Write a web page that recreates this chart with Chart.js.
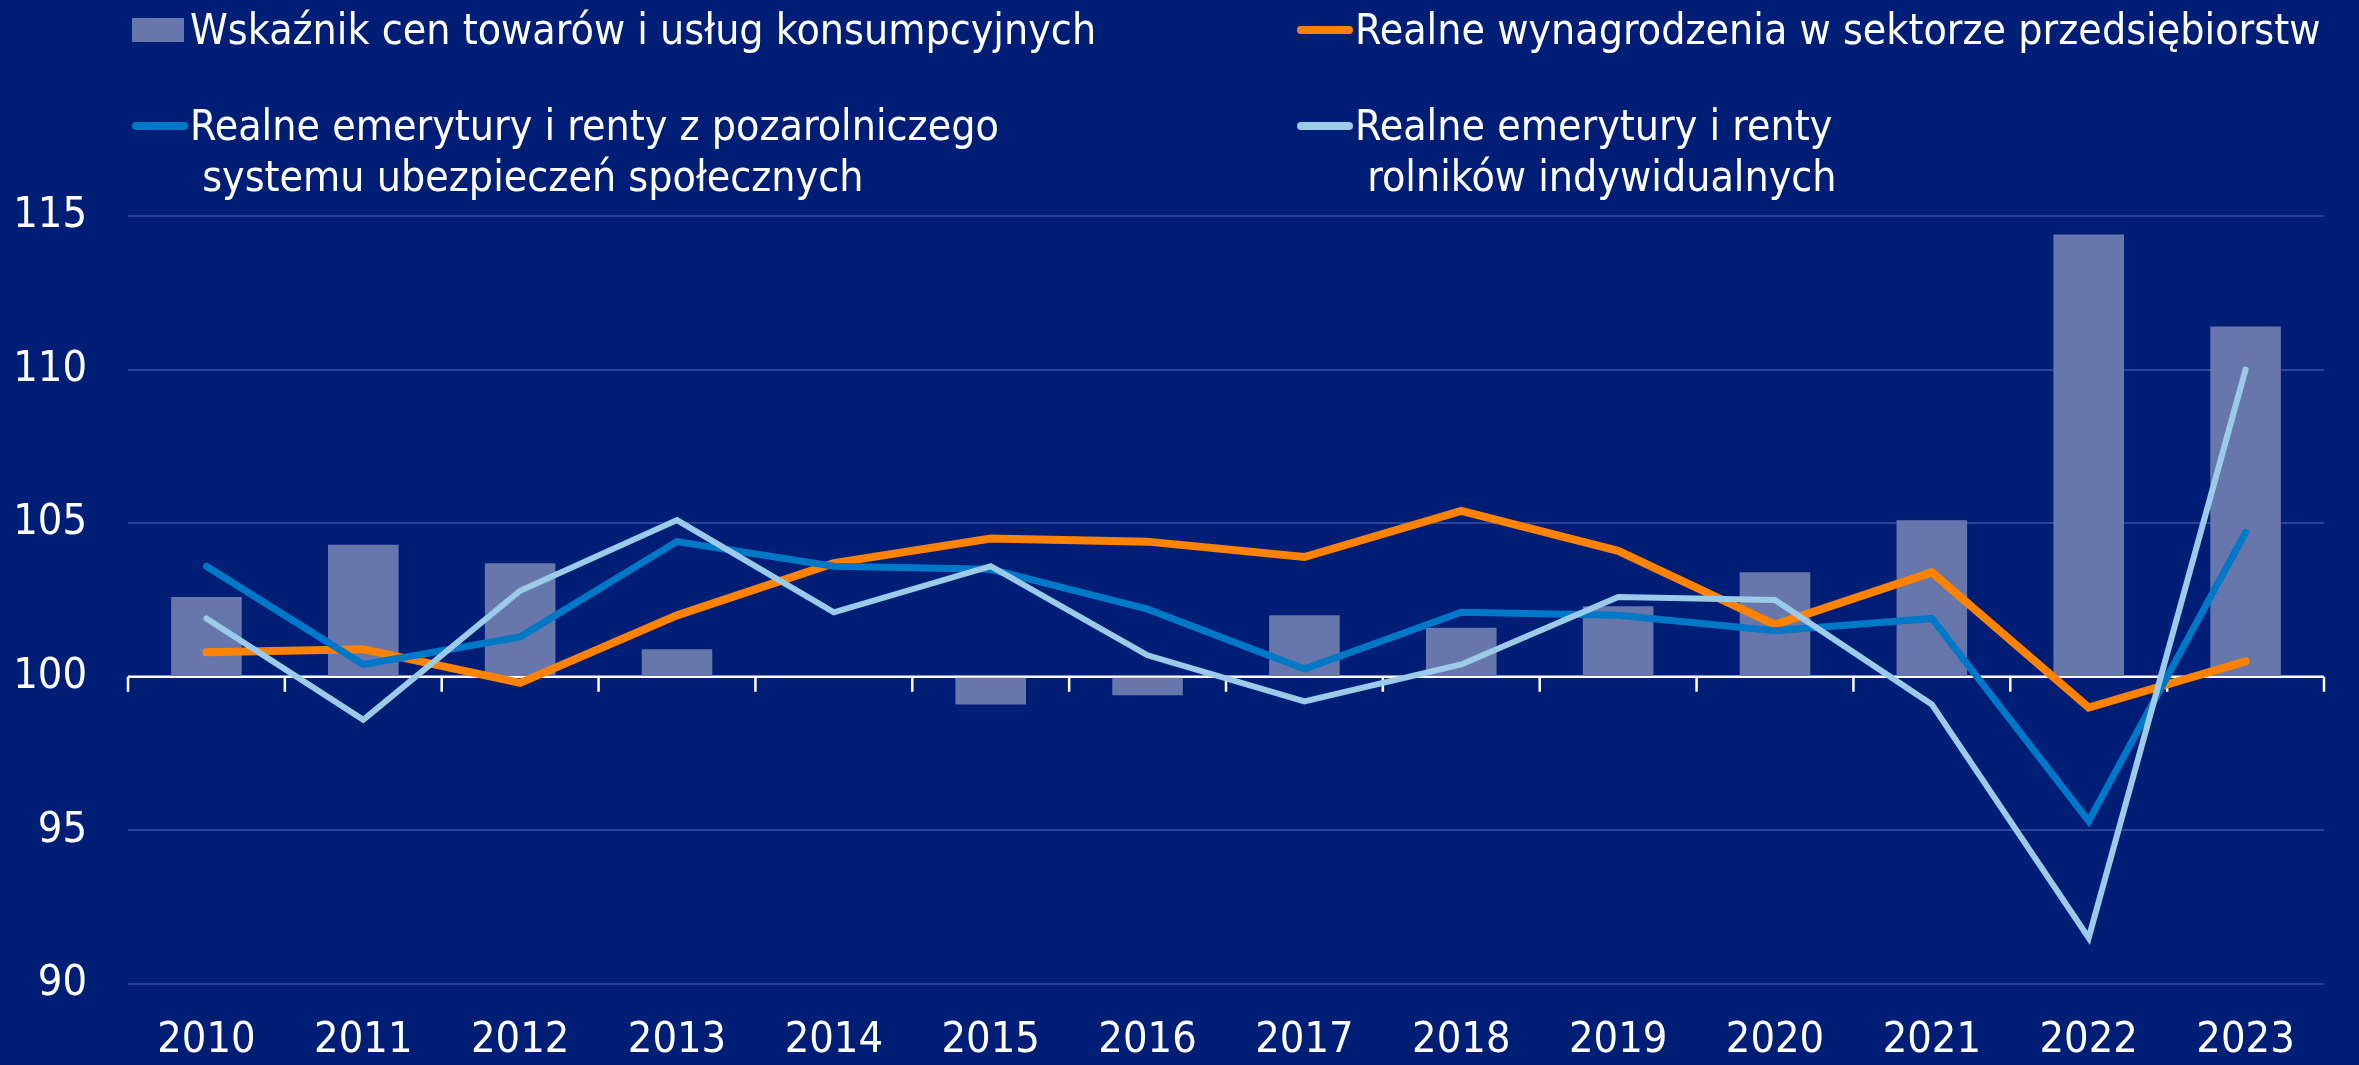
<!DOCTYPE html>
<html lang="pl">
<head>
  <meta charset="UTF-8" />
  <title>Wskaźniki realne 2010-2023</title>
  <script src="https://cdn.jsdelivr.net/npm/chart.js"></script>
  <style>
    body { margin: 0; background: #011e76; font-family: "DejaVu Sans Condensed", "DejaVu Sans", sans-serif; }
    #wrap { position: relative; width: 2359px; height: 1065px; }
    #legend { position: absolute; left: 0; top: 0; width: 100%; height: 210px; color: #fff; font-size: 42.5px; }
    .item { position: absolute; white-space: pre; line-height: 51px; }
    .mark { position: absolute; }
  </style>
</head>
<body>
<div id="wrap">
  <canvas id="mainChart"></canvas>
  <div id="legend"></div>
</div>

<script>
  const years = ['2010','2011','2012','2013','2014','2015','2016','2017','2018','2019','2020','2021','2022','2023'];
  const cpi      = [102.6, 104.3, 103.7, 100.9, 100.0, 99.1, 99.4, 102.0, 101.6, 102.3, 103.4, 105.1, 114.4, 111.4];
  const wages    = [100.8, 100.9, 99.8, 102.0, 103.7, 104.5, 104.4, 103.9, 105.4, 104.1, 101.7, 103.4, 99.0, 100.5];
  const pensions = [103.6, 100.4, 101.3, 104.4, 103.6, 103.5, 102.2, 100.25, 102.1, 102.0, 101.5, 101.9, 95.3, 104.7];
  const farmers  = [101.9, 98.6, 102.8, 105.1, 102.1, 103.6, 100.7, 99.2, 100.4, 102.6, 102.5, 99.1, 91.5, 110.0];
  const yTicks   = [90, 95, 100, 105, 110, 115];

  const gridColor = '#2c459a';
  const fontFam = '"DejaVu Sans Condensed", "DejaVu Sans", sans-serif';

  // osie: linia przy 100 z kreskami na granicach kategorii
  const baseAxis = {
    id: 'baseAxis',
    beforeDatasetsDraw(chart) {
      const { ctx, chartArea, scales: { x, y } } = chart;
      const yy = y.getPixelForValue(100);
      const half = (x.getPixelForValue(1) - x.getPixelForValue(0)) / 2;
      ctx.save();
      ctx.strokeStyle = '#ffffff';
      ctx.lineWidth = 2.5;
      ctx.beginPath();
      ctx.moveTo(chartArea.left, yy);
      ctx.lineTo(chartArea.right, yy);
      for (let i = 0; i <= years.length; i++) {
        const xx = x.getPixelForValue(i) - half;
        ctx.moveTo(xx, yy);
        ctx.lineTo(xx, yy + 15);
      }
      ctx.stroke();
      ctx.restore();
    }
  };

  const ctx = document.getElementById('mainChart').getContext('2d');
  const chart = new Chart(ctx, {
    type: 'bar',
    data: {
      labels: years,
      datasets: [
        {
          label: 'Wskaźnik cen towarów i usług konsumpcyjnych',
          data: cpi,
          base: 100,
          backgroundColor: '#6777ab',
          barPercentage: 0.45,
          categoryPercentage: 1,
          order: 4
        },
        {
          type: 'line',
          label: 'Realne wynagrodzenia w sektorze przedsiębiorstw',
          data: wages,
          borderColor: '#ff8200',
          borderWidth: 8,
          pointRadius: 0,
          borderCapStyle: 'round',
          order: 3
        },
        {
          type: 'line',
          label: 'Realne emerytury i renty z pozarolniczego\n systemu ubezpieczeń społecznych',
          data: pensions,
          borderColor: '#0078c8',
          borderWidth: 7,
          pointRadius: 0,
          borderCapStyle: 'round',
          order: 2
        },
        {
          type: 'line',
          label: 'Realne emerytury i renty\n rolników indywidualnych',
          data: farmers,
          borderColor: '#9ccbea',
          borderWidth: 6,
          pointRadius: 0,
          borderCapStyle: 'round',
          order: 1
        }
      ]
    },
    options: {
      responsive: true,
      maintainAspectRatio: false,
      animation: false,
      layout: { padding: { top: 216, right: 35, left: 0, bottom: 0 } },
      plugins: {
        legend: { display: false },
        tooltip: { enabled: false }
      },
      scales: {
        x: {
          grid: { display: false, drawTicks: false },
          border: { display: false },
          ticks: { color: '#fff', font: { family: fontFam, size: 43 }, padding: 31 },
          afterFit(s) { s.height = 81; }
        },
        y: {
          min: 90,
          max: 115,
          afterBuildTicks(s) { s.ticks = yTicks.map(v => ({ value: v })); },
          grid: {
            drawTicks: false,
            lineWidth: 2,
            color: c => (c.tick && c.tick.value === 100) ? 'transparent' : gridColor
          },
          border: { display: false },
          ticks: { color: '#fff', font: { family: fontFam, size: 43 }, padding: 41 },
          afterFit(s) { s.width = 128; }
        }
      }
    },
    plugins: [baseAxis]
  });

  // legenda w dwóch kolumnach, jak w oryginale
  const legendPos = [
    { x: 132, y: 4 },
    { x: 1297, y: 4 },
    { x: 132, y: 100 },
    { x: 1297, y: 100 }
  ];
  const legend = document.getElementById('legend');
  chart.data.datasets.forEach((ds, i) => {
    const p = legendPos[i];
    const mark = document.createElement('div');
    mark.className = 'mark';
    if (ds.type === 'line') {
      Object.assign(mark.style, { left: p.x + 'px', top: (p.y + 22) + 'px', width: '56px', height: '8px',
        borderRadius: '4px', background: ds.borderColor });
    } else {
      Object.assign(mark.style, { left: p.x + 'px', top: (p.y + 14) + 'px', width: '52px', height: '24px',
        background: ds.backgroundColor });
    }
    legend.appendChild(mark);
    const txt = document.createElement('div');
    txt.className = 'item';
    txt.style.left = (p.x + 58) + 'px';
    txt.style.top = p.y + 'px';
    txt.textContent = ds.label;
    legend.appendChild(txt);
  });
</script>
</body>
</html>
